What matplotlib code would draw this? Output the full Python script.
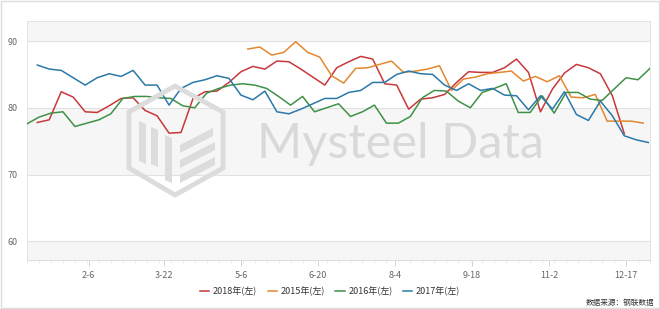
import matplotlib
matplotlib.use("Agg")
import matplotlib.pyplot as plt
import matplotlib.dates as mdates
import matplotlib.transforms as mtransforms
from matplotlib.patches import Polygon
import pandas as pd

plt.rcParams["font.family"] = ["Noto Sans CJK SC", "DejaVu Sans"]

# weekly readings, one list per year (plotted on a month-day axis)
red_2018 = [77.8, 78.2, 82.4, 81.6, 79.4, 79.3, 80.3, 81.4, 81.5, 79.6,
            78.8, 76.2, 76.3, 81.4, 82.4, 82.5, 83.8, 85.4, 86.2, 85.8,
            87.0, 86.9, 85.8, 84.6, 83.4, 86.0, 86.9, 87.7, 87.3, 83.6,
            83.4, 79.8, 81.3, 81.5, 82.0, 83.8, 85.4, 85.3, 85.3, 86.0,
            87.3, 85.3, 79.4, 82.8, 85.2, 86.5, 86.0, 85.1, 81.8, 76.1]
orange_2015 = [88.8, 89.1, 87.9, 88.3, 89.9, 88.3, 87.6, 84.8, 83.7, 85.9,
               86.0, 86.5, 87.0, 85.3, 85.5, 85.8, 86.3, 82.6, 84.3, 84.6,
               85.1, 85.3, 85.5, 84.0, 84.7, 83.9, 84.8, 81.6, 81.5, 82.0,
               78.0, 78.0, 78.0, 77.7]
green_2016 = [77.6, 78.6, 79.2, 79.4, 77.2, 77.7, 78.2, 79.1, 81.4, 81.7,
              81.7, 81.5, 81.4, 80.3, 80.0, 82.2, 82.9, 83.4, 83.6, 83.4,
              82.9, 81.7, 80.4, 81.7, 79.4, 80.0, 80.6, 78.7, 79.4, 80.4,
              77.7, 77.7, 78.7, 81.5, 82.6, 82.5, 81.0, 80.0, 82.3, 82.9,
              83.6, 79.3, 79.3, 81.8, 79.2, 82.3, 82.3, 81.3, 81.1, 82.8,
              84.5, 84.2, 85.9]
blue_2017 = [86.4, 85.8, 85.6, 84.5, 83.4, 84.5, 85.1, 84.7, 85.6, 83.4,
             83.4, 80.4, 82.9, 83.8, 84.2, 84.8, 84.4, 81.9, 81.2, 82.5,
             79.4, 79.1, 79.8, 80.6, 81.4, 81.4, 82.3, 82.6, 83.8, 83.8,
             85.0, 85.5, 85.1, 85.0, 83.4, 82.6, 83.6, 82.6, 82.9, 81.9,
             81.8, 79.7, 81.8, 79.8, 82.4, 79.0, 78.1, 81.0, 78.8, 75.8,
             75.2, 74.8]

series = [
    ("2018年(左)", red_2018, "2018-01-07", "#c8383b"),
    ("2015年(左)", orange_2015, "2018-05-10", "#e3882f"),
    ("2016年(左)", green_2016, "2018-01-01", "#3f9146"),
    ("2017年(左)", blue_2017, "2018-01-07", "#2b79a8"),
]

tick_labels = ["2-6", "3-22", "5-6", "6-20", "8-4", "9-18", "11-2", "12-17"]
y_ticks = [60, 70, 80, 90]

W, H = 660, 309
fig = plt.figure(figsize=(W / 100, H / 100), dpi=100)
fig.patch.set_facecolor("white")
px = mtransforms.Affine2D().scale(1 / W, -1 / H).translate(0, 1) + fig.transFigure

# outer frame
fig.add_artist(Polygon([(1, 1), (W - 1, 1), (W - 1, H - 1), (1, H - 1)], closed=True,
                       fill=False, ec="#dddddd", lw=1, transform=px))

ax = fig.add_axes([27 / W, 1 - 260 / H, 623 / W, 239 / H])
ax.set_facecolor("white")
ymin, ymax = 57.2, 93.0
ax.set_ylim(ymin, ymax)
ax.set_xlim(pd.Timestamp("2018-01-01"), pd.Timestamp("2018-12-31"))

# alternating bands + grid
edges = [ymin] + y_ticks + [ymax]
for i in range(len(edges) - 1):
    if i % 2 == 0:
        ax.axhspan(edges[i], edges[i + 1], color="#f6f6f6", zorder=0, lw=0)
for v in y_ticks:
    ax.axhline(v, color="#e2e2e2", lw=0.8, zorder=1)

# watermark logo + text
gray = "#dcdcdc"
hexagon = [(175, 86), (223, 112), (223, 168), (175, 195), (129, 168), (129, 112)]
fig.add_artist(Polygon(hexagon, closed=True, fill=False, ec=gray, lw=3.5, transform=px, zorder=0.5))
shapes = [
    [(139, 121), (146, 124), (146, 164), (139, 161)],
    [(151, 127), (158, 130), (158, 167), (151, 164)],
    [(165, 135), (172, 138), (172, 183), (165, 180)],
    [(180, 145), (213, 128), (213, 136), (180, 153)],
    [(180, 160), (215, 142), (215, 150), (180, 168)],
    [(180, 175), (215, 157), (215, 165), (180, 183)],
]
for s in shapes:
    fig.add_artist(Polygon(s, closed=True, fc=gray, ec="none", transform=px, zorder=0.5))
fig.text(400 / W, 1 - 158 / H, "Mysteel Data", ha="center", va="baseline",
         fontsize=35, color="#d9d9d9", family="Lato", fontweight="normal", zorder=0.5)
ax.patch.set_alpha(0)

for name, vals, start, color in series:
    dates = pd.date_range(start, periods=len(vals), freq="7D")
    ax.plot(dates, vals, color=color, lw=1.1, label=name, zorder=3)

ax.set_yticks(y_ticks)
ax.set_yticklabels([str(v) for v in y_ticks])
ax.set_xticks([pd.Timestamp("2018-" + t) for t in tick_labels])
ax.set_xticklabels(tick_labels)
ax.xaxis.set_minor_locator(mdates.DayLocator(interval=7))
ax.tick_params(axis="y", length=0, pad=7, labelsize=6.5, labelcolor="#666666")
ax.tick_params(axis="x", which="major", length=4, width=0.6, color="#cccccc",
               pad=4, labelsize=6.5, labelcolor="#666666")
ax.tick_params(axis="x", which="minor", length=2, width=0.5, color="#e0e0e0")
for side in ["top", "right", "left"]:
    ax.spines[side].set_color("#e4e4e4")
    ax.spines[side].set_linewidth(0.7)
ax.spines["bottom"].set_color("#dddddd")
ax.spines["bottom"].set_linewidth(0.7)

leg = ax.legend(loc="center", bbox_to_anchor=(330 / W, 1 - 291 / H), bbox_transform=fig.transFigure,
                ncol=4, frameon=False, fontsize=6.5, handlelength=1.0, handletextpad=0.4,
                columnspacing=1.2, borderpad=0.2)
for t in leg.get_texts():
    t.set_color("#333333")

fig.text(654 / W, 1 - 303 / H, "数据来源：钢联数据", ha="right", va="center",
         fontsize=5.5, color="#333333")

fig.savefig("out.png", dpi=100)
